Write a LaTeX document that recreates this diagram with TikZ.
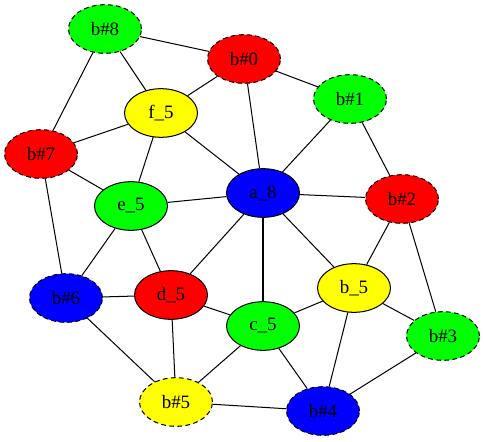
\documentclass[tikz,border=0pt]{standalone}
\usepackage{fontspec}
\setmainfont{Liberation Serif}
\usetikzlibrary{shapes.geometric}
\definecolor{gred}{RGB}{255,0,0}
\definecolor{ggreen}{RGB}{0,255,0}
\definecolor{gblue}{RGB}{0,0,255}
\definecolor{gyellow}{RGB}{255,255,0}
\begin{document}
\begin{tikzpicture}[x=0.74pt, y=-0.74pt,
  v/.style={ellipse, draw, line width=0.75pt, minimum width=54pt, minimum height=36pt, inner sep=0pt, font=\fontsize{14}{16}\selectfont},
  bv/.style={v, dash pattern=on 3.5pt off 2.5pt},
  e/.style={line width=0.75pt}]
\useasboundingbox (0,0) rectangle (484,441);
\node[bv, fill=ggreen] (b8) at (105,29) {b\#8};
\node[bv, fill=gred] (b0) at (244,59) {b\#0};
\node[bv, fill=ggreen] (b1) at (350,99) {b\#1};
\node[v, fill=gyellow] (f5) at (161,113) {f\_5};
\node[bv, fill=gred] (b7) at (41,154) {b\#7};
\node[v, fill=gblue] (a8) at (263,193) {a\_8};
\node[bv, fill=gred] (b2) at (402,199) {b\#2};
\node[v, fill=ggreen] (e5) at (131,206) {e\_5};
\node[bv, fill=gblue] (b6) at (66,298) {b\#6};
\node[v, fill=gred] (d5) at (171,295) {d\_5};
\node[v, fill=gyellow] (b5) at (354,288) {b\_5};
\node[v, fill=ggreen] (c5) at (263,326) {c\_5};
\node[bv, fill=ggreen] (b3) at (443,336) {b\#3};
\node[bv, fill=gyellow] (b5h) at (176,402) {b\#5};
\node[bv, fill=gblue] (b4) at (323,411) {b\#4};
\draw[e] (b8) -- (b0); \draw[e] (b8) -- (f5); \draw[e] (b8) -- (b7);
\draw[e] (b0) -- (f5); \draw[e] (b0) -- (a8); \draw[e] (b0) -- (b1);
\draw[e] (b1) -- (a8); \draw[e] (b1) -- (b2);
\draw[e] (f5) -- (b7); \draw[e] (f5) -- (a8); \draw[e] (f5) -- (e5);
\draw[e] (b7) -- (e5); \draw[e] (b7) -- (b6);
\draw[e] (e5) -- (a8); \draw[e] (e5) -- (d5); \draw[e] (e5) -- (b6);
\draw[e] (a8) -- (b2); \draw[e] (a8) -- (d5); \draw[e] (a8) -- (c5); \draw[e] (a8) -- (b5);
\draw[e] (b2) -- (b5); \draw[e] (b2) -- (b3);
\draw[e] (b6) -- (d5); \draw[e] (b6) -- (b5h);
\draw[e] (d5) -- (c5); \draw[e] (d5) -- (b5h);
\draw[e] (c5) -- (b5); \draw[e] (c5) -- (b5h); \draw[e] (c5) -- (b4);
\draw[e] (b5) -- (b3); \draw[e] (b5) -- (b4);
\draw[e] (b3) -- (b4); \draw[e] (b5h) -- (b4);
\end{tikzpicture}
\end{document}
